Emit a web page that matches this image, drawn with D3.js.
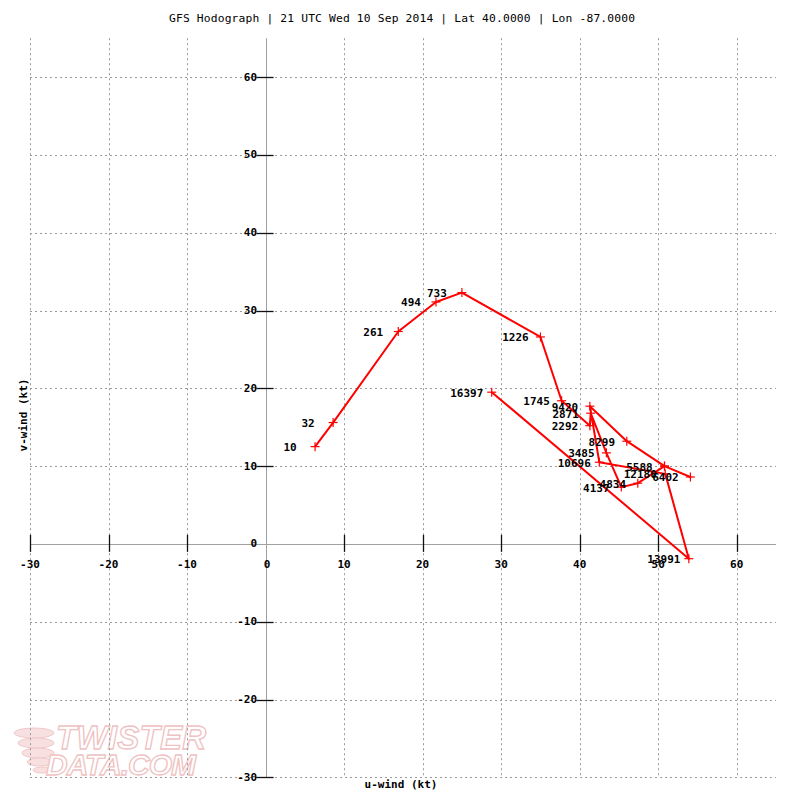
<!DOCTYPE html>
<html><head><meta charset="utf-8">
<script src="https://cdn.jsdelivr.net/npm/d3@7"></script>
<style>
html,body{margin:0;padding:0;background:#fff;}
svg{display:block;}
</style></head>
<body>
<svg id="c" width="792" height="793"></svg>
<script>
// ---- data ----
const heights = ["10","32","261","494","733","1226","1745","2292","2871","3485","4137","4834","5588","6402","","8299","9420","10696","12180","13991","16397"];
const uWind = [6.3, 8.6, 16.9, 21.7, 25.0, 35.0, 37.7, 41.3, 41.4, 43.4, 45.3, 47.4, 50.8, 54.1, 50.8, 46.0, 41.3, 42.5, 50.9, 53.9, 28.8];
const vWind = [12.5, 15.6, 27.3, 31.1, 32.3, 26.6, 18.4, 15.2, 16.8, 11.7, 7.3, 7.8, 10.0, 8.6, 10.0, 13.2, 17.7, 10.5, 9.0, -1.9, 19.5];
const tickValues = [-30, -20, -10, 0, 10, 20, 30, 40, 50, 60];
const xTickLabels = ["-30","-20","-10","0","10","20","30","40","50","60"];
const yTickLabels = ["-30","-20","-10","0","10","20","30","40","50","60"];
const title = "GFS Hodograph | 21 UTC Wed 10 Sep 2014 | Lat 40.0000 | Lon -87.0000";

const svg = d3.select("#c");
const x = d3.scaleLinear().domain([-30, 65]).range([30, 776]);
const y = d3.scaleLinear().domain([-30, 65]).range([777.3, 38.2]);
const mono = "'DejaVu Sans Mono', 'Liberation Mono', monospace";

// watermark
const wm = svg.append("g");
[[34,733,20,5],[36,743,18,5],[38,753,16,5],[40,762,13,4],[42,770,9,3]].forEach(e=>{
  wm.append("ellipse").attr("cx",e[0]).attr("cy",e[1]).attr("rx",e[2]).attr("ry",e[3])
    .attr("fill","#f8e0e0").attr("stroke","#f0c8c8").attr("stroke-width",1);
});
wm.append("text").attr("x",56).attr("y",749).text("TWISTER")
  .attr("font-family","'Liberation Sans', Arial, sans-serif").attr("font-style","italic").attr("font-weight","bold")
  .attr("font-size",33).attr("textLength",150).attr("fill","#fff").attr("stroke","#efc2c2").attr("stroke-width",1.3);
wm.append("text").attr("x",46).attr("y",775).text("DATA.COM")
  .attr("font-family","'Liberation Sans', Arial, sans-serif").attr("font-style","italic").attr("font-weight","bold")
  .attr("font-size",30).attr("textLength",150).attr("fill","#fff").attr("stroke","#efc2c2").attr("stroke-width",1.3);

// grid
const grid = svg.append("g").attr("stroke","#9a9a9a").attr("stroke-width",1).attr("stroke-dasharray","2,3").attr("fill","none");
tickValues.filter(t=>t!==0).forEach(t=>{
  grid.append("line").attr("x1",Math.round(x(t))+0.5).attr("x2",Math.round(x(t))+0.5).attr("y1",y(65)).attr("y2",y(-30));
  grid.append("line").attr("y1",Math.round(y(t))+0.5).attr("y2",Math.round(y(t))+0.5).attr("x1",x(-30)).attr("x2",x(65));
});

// axes lines
svg.append("line").attr("x1",x(-30)).attr("x2",x(65)).attr("y1",Math.round(y(0))+0.5).attr("y2",Math.round(y(0))+0.5).attr("stroke","#a0a0a0").attr("stroke-width",1);
svg.append("line").attr("y1",y(65)).attr("y2",y(-30)).attr("x1",Math.round(x(0))+0.5).attr("x2",Math.round(x(0))+0.5).attr("stroke","#a0a0a0").attr("stroke-width",1);

// ticks
tickValues.forEach((t,i)=>{
  if (t!==0) {
    svg.append("line").attr("x1",Math.round(x(t))+0.5).attr("x2",Math.round(x(t))+0.5).attr("y1",y(0)-9).attr("y2",y(0)+8).attr("stroke","#111").attr("stroke-width",1.3);
    svg.append("line").attr("y1",Math.round(y(t))+0.5).attr("y2",Math.round(y(t))+0.5).attr("x1",x(0)-9).attr("x2",x(0)+8).attr("stroke","#111").attr("stroke-width",1.3);
  }
  svg.append("text").attr("x",x(t)+(t===0?1.5:0)).attr("y",y(0)+21).attr("text-anchor","middle").attr("dominant-baseline","central")
    .attr("font-family",mono).attr("font-weight","bold").attr("font-size",11).attr("fill","#000").text(xTickLabels[i]);
  svg.append("text").attr("x",x(0)-8.5).attr("y",y(t)).attr("text-anchor","end").attr("dominant-baseline","central")
    .attr("font-family",mono).attr("font-weight","bold").attr("font-size",11).attr("fill","#000").text(yTickLabels[i]);
});

// axis titles
svg.append("text").attr("x",401).attr("y",784).attr("text-anchor","middle").attr("dominant-baseline","central")
  .attr("font-family",mono).attr("font-weight","bold").attr("font-size",11).text("u-wind (kt)");
svg.append("text").attr("transform","translate(23,415) rotate(-90)").attr("text-anchor","middle").attr("dominant-baseline","central")
  .attr("font-family",mono).attr("font-weight","bold").attr("font-size",11).text("v-wind (kt)");

// title
svg.append("text").attr("x",402).attr("y",18).attr("text-anchor","middle").attr("dominant-baseline","central")
  .attr("font-family",mono).attr("font-size",11.3).attr("textLength",466).attr("fill","#000").text(title);

// hodograph
const pts = uWind.map((u,i)=>({u:u, v:vWind[i], h:heights[i]}));
svg.append("path").datum(pts)
  .attr("d", d3.line().x(d=>x(d.u)).y(d=>y(d.v)))
  .attr("fill","none").attr("stroke","#ff0000").attr("stroke-width",2).attr("stroke-linejoin","round");
const mk = svg.append("g").attr("stroke","#ff0000").attr("stroke-width",1.2);
pts.forEach(d=>{
  const px = x(d.u), py = y(d.v);
  mk.append("line").attr("x1",px-4.5).attr("x2",px+4.5).attr("y1",py).attr("y2",py);
  mk.append("line").attr("x1",px).attr("x2",px).attr("y1",py-4.5).attr("y2",py+4.5);
});
svg.append("g").selectAll("text").data(pts.filter(d=>d.h!=="")).join("text")
  .attr("x",d=>x(d.u)-25).attr("y",d=>y(d.v)+1).attr("text-anchor","middle").attr("dominant-baseline","central")
  .attr("font-family",mono).attr("font-weight","bold").attr("font-size",11).attr("fill","#000").text(d=>d.h);
</script>
</body></html>
